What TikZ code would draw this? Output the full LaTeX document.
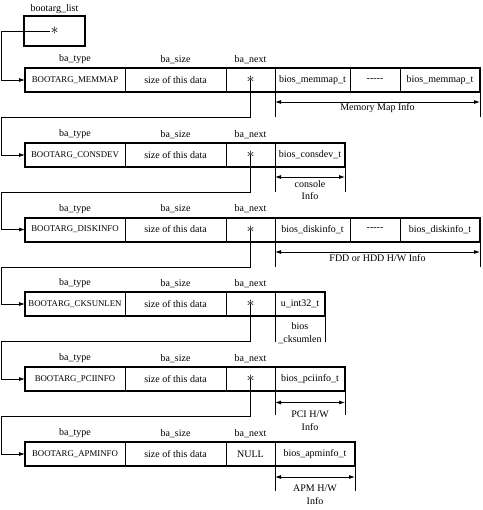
\documentclass[tikz,border=0pt]{standalone}
\usepackage{fontspec}
\setmainfont{Liberation Serif}
\usetikzlibrary{arrows.meta,calc}
\newcommand{\etoile}{{\fontsize{12}{12}\selectfont$\ast$}}

\begin{document}
\begin{tikzpicture}[x=0.75pt,y=-0.75pt]
\tikzset{cellule/.style={draw, line width=0.6pt, outer sep=0pt, inner sep=0.5pt,
    minimum height=18pt, font=\fontsize{7.5}{9}\selectfont},
  typecell/.style={cellule, minimum width=75pt, font=\fontsize{6.6}{8}\selectfont},
  cadre/.style={line width=1.5pt},
  texte/.style={inner sep=1pt, font=\fontsize{7.5}{9.5}\selectfont, align=center},
  lien/.style={line width=0.6pt, -{Latex[length=4.5pt,width=3pt]}},
  cote/.style={line width=0.6pt, {Latex[length=4.5pt,width=3pt]}-{Latex[length=4.5pt,width=3pt]}},
  tick/.style={line width=0.6pt}}
\useasboundingbox (0,0) rectangle (482,510);
\coordinate (G) at (1,0);
% tete de liste
\node[draw, cadre, minimum width=45.75pt, minimum height=22.5pt] (liste) at (54.5,31) {};
\node[texte, anchor=south] (titre) at ([yshift=-0.5pt]liste.north) {bootarg\_list};
\node[inner sep=0pt] (etoile) at (liste.center) {\etoile};
% les six enregistrements
\foreach \i/\y/\nom/\suiv in {1/80/MEMMAP/\etoile, 2/155/CONSDEV/\etoile,
    3/229.5/DISKINFO/\etoile, 4/304/CKSUNLEN/\etoile, 5/379/PCIINFO/\etoile,
    6/454/APMINFO/NULL} {
  \node[typecell] (T\i) at (75,\y) {BOOTARG\_\nom};
  \node[cellule, minimum width=75.75pt, anchor=west] (S\i) at (T\i.east) {size of this data};
  \node[cellule, minimum width=36.75pt, anchor=west] (N\i) at (S\i.east) {\suiv};
  \node[texte] (bt\i) at ([yshift=6.5pt]T\i.north) {ba\_type};
  \node[texte] (bs\i) at ([yshift=6.5pt]S\i.north) {ba\_size};
  \node[texte] (bn\i) at ([yshift=6.5pt]N\i.north) {ba\_next};
}
\draw[lien] (etoile.west) -- (G |- etoile.west) -- (G |- T1.west) -- (T1.west);
% champs de donnees
\node[cellule, minimum width=56.25pt, anchor=west] (D1a) at (N1.east) {bios\_memmap\_t};
\node[cellule, minimum width=37.5pt, anchor=west] (D1b) at (D1a.east) {-{}-{}-{}-{}-};
\node[cellule, minimum width=60pt, anchor=west] (D1c) at (D1b.east) {bios\_memmap\_t};
\node[cellule, minimum width=52.5pt, anchor=west] (D2a) at (N2.east) {bios\_consdev\_t};
\node[cellule, minimum width=56.25pt, anchor=west] (D3a) at (N3.east) {bios\_diskinfo\_t};
\node[cellule, minimum width=37.5pt, anchor=west] (D3b) at (D3a.east) {-{}-{}-{}-{}-};
\node[cellule, minimum width=60pt, anchor=west] (D3c) at (D3b.east) {bios\_diskinfo\_t};
\node[cellule, minimum width=37.5pt, anchor=west] (D4a) at (N4.east) {u\_int32\_t};
\node[cellule, minimum width=52.5pt, anchor=west] (D5a) at (N5.east) {bios\_pciinfo\_t};
\node[cellule, minimum width=60pt, anchor=west] (D6a) at (N6.east) {bios\_apminfo\_t};
% cadres epais
\draw[cadre] (T1.north west) rectangle (D1c.south east);
\draw[cadre] (T2.north west) rectangle (D2a.south east);
\draw[cadre] (T3.north west) rectangle (D3c.south east);
\draw[cadre] (T4.north west) rectangle (D4a.south east);
\draw[cadre] (T5.north west) rectangle (D5a.south east);
\draw[cadre] (T6.north west) rectangle (D6a.south east);
% chainage ba_next
\draw[lien] (N1.center) -- ++(0,37.5) -| (G |- T2.west) -- (T2.west);
\draw[lien] (N2.center) -- ++(0,37.5) -| (G |- T3.west) -- (T3.west);
\draw[lien] (N3.center) -- ++(0,37.5) -| (G |- T4.west) -- (T4.west);
\draw[lien] (N4.center) -- ++(0,37.5) -| (G |- T5.west) -- (T5.west);
\draw[lien] (N5.center) -- ++(0,37.5) -| (G |- T6.west) -- (T6.west);
% cotes
\draw[tick] (D1a.south west) -- ++(0,25);
\draw[tick] (D1c.south east) -- ++(0,25);
\draw[cote] ($(D1a.south west)+(0,10)$) -- ($(D1c.south east)+(0,10)$);
\node[texte] (i1) at ($(D1a.south west)!0.5!(D1c.south east)+(0,16)$) {Memory Map Info};
\draw[tick] (D2a.south west) -- ++(0,25);
\draw[tick] (D2a.south east) -- ++(0,25);
\draw[cote] ($(D2a.south west)+(0,10)$) -- ($(D2a.south east)+(0,10)$);
\node[texte] (i2) at ($(D2a.south west)!0.5!(D2a.south east)+(0,23)$) {console\\Info};
\draw[tick] (D3a.south west) -- ++(0,25);
\draw[tick] (D3c.south east) -- ++(0,25);
\draw[cote] ($(D3a.south west)+(0,10.5)$) -- ($(D3c.south east)+(0,10.5)$);
\node[texte] (i3) at ($(D3a.south west)!0.5!(D3c.south east)+(0,16.5)$) {FDD or HDD H/W Info};
\draw[tick] (D4a.south west) -- ++(0,26);
\draw[tick] (D4a.south east) -- ++(0,26);
\node[texte] (i4) at ($(D4a.south west)!0.5!(D4a.south east)+(0,17.5)$) {bios\\\_cksumlen};
\draw[tick] (D5a.south west) -- ++(0,24);
\draw[tick] (D5a.south east) -- ++(0,24);
\draw[cote] ($(D5a.south west)+(0,11.5)$) -- ($(D5a.south east)+(0,11.5)$);
\node[texte] (i5) at ($(D5a.south west)!0.5!(D5a.south east)+(0,30)$) {PCI H/W\\Info};
\draw[tick] (D6a.south west) -- ++(0,25);
\draw[tick] (D6a.south east) -- ++(0,25);
\draw[cote] ($(D6a.south west)+(0,11)$) -- ($(D6a.south east)+(0,11)$);
\node[texte] (i6) at ($(D6a.south west)!0.5!(D6a.south east)+(0,29)$) {APM H/W\\Info};
\end{tikzpicture}
\end{document}
